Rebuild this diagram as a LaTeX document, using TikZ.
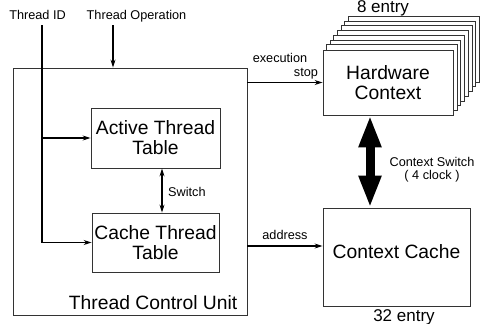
\documentclass[tikz,border=0pt]{standalone}
\usepackage{fontspec}
\setmainfont{Liberation Sans}
\usetikzlibrary{arrows.meta,calc,backgrounds}
\newcommand\fontL{\fontsize{19.3}{20}\selectfont}
\newcommand\fontM{\fontsize{17}{18}\selectfont}
\newcommand\fontS{\fontsize{12.7}{13.3}\selectfont}
\tikzset{
  smalltip/.tip={Stealth[length=8pt,width=5pt,inset=2.5pt]},
  bigtip/.tip={Triangle[length=32pt,width=21pt]},
}
\begin{document}
\begin{tikzpicture}[x=1pt,y=-1pt,
  boxline/.style={draw=black!80, line width=0.9pt},
  unit/.style={boxline, fill=white, inner sep=0pt, align=center, font=\fontL},
  arr/.style={line width=1.1pt, -smalltip},
  dbl/.style={line width=1.1pt, smalltip-smalltip},
  lbl/.style={inner sep=0pt, font=\fontS, anchor=base},
  cnt/.style={inner sep=0pt, font=\fontM, anchor=base},
]
\useasboundingbox (0,0) rectangle (483,324);

% thread control unit and its tables
\node[boxline, minimum width=234pt, minimum height=247pt, inner sep=0pt] (tcu) at (130,191.5) {};
\node[inner sep=0pt, font=\fontL, anchor=base east] (tculbl) at (237.5,309.3) {Thread Control Unit};
\node[unit, minimum width=129pt, minimum height=60pt] (att) at (155.5,138) {Active Thread\\Table};
\node[unit, minimum width=127pt, minimum height=59pt] (ctt) at (155.5,242.5) {Cache Thread\\Table};

% hardware contexts: front box plus seven stacked behind it
\node[unit, minimum width=130pt, minimum height=65pt] (hw) at (388,82.5) {Hardware\\Context};
\begin{scope}[on background layer]
  \foreach \k in {7,6,...,1}
    \draw[boxline, fill=white] ($(hw.south west)+(\k*3.7,-\k*4.76)$) rectangle ($(hw.north east)+(\k*3.7,-\k*4.76)$);
\end{scope}

% context cache
\node[unit, minimum width=147pt, minimum height=98pt] (cc) at (396.5,257) {};
\node[inner sep=0pt, font=\fontL, anchor=base] (cctext) at (396.5,258.3) {Context Cache};

% labels
\node[lbl] (idlbl) at (37.5,19.3) {Thread ID};
\node[lbl] (oplbl) at (136.5,19.3) {Thread Operation};
\node[lbl] (exlbl) at (280,62.7) {execution};
\node[lbl] (stlbl) at (306,76) {stop};
\node[lbl] (adlbl) at (285,239.3) {address};
\node[lbl, anchor=base west] (swlbl) at (168,196.7) {Switch};
\node[lbl] (cs1) at (432,166.7) {Context Switch};
\node[lbl] (cs2) at (432,179) {( 4 clock )};
\node[cnt] (hwn) at (383,12.7) {8 entry};
\node[cnt] (ccn) at (404,321) {32 entry};

% connectors
\coordinate (idin) at (42,25);
\coordinate (opin) at (113,25);
\draw[arr] (opin) -- (opin |- tcu.north);
\draw[arr] (idin) |- (ctt.west);
\draw[arr] (idin |- att.west) -- (att.west);
\draw[dbl] ([xshift=6.5pt]att.south) -- ([xshift=6.5pt]ctt.north);
\draw[arr] (tcu.east |- hw.west) -- (hw.west);
\coordinate (adin) at ([yshift=11pt]cc.west);
\draw[arr] (tcu.east |- adin) -- (adin);
\draw[line width=9pt, bigtip-bigtip] ([xshift=-18pt]hw.south) -- ([xshift=-18pt]hw.south |- cc.north);
\end{tikzpicture}
\end{document}
